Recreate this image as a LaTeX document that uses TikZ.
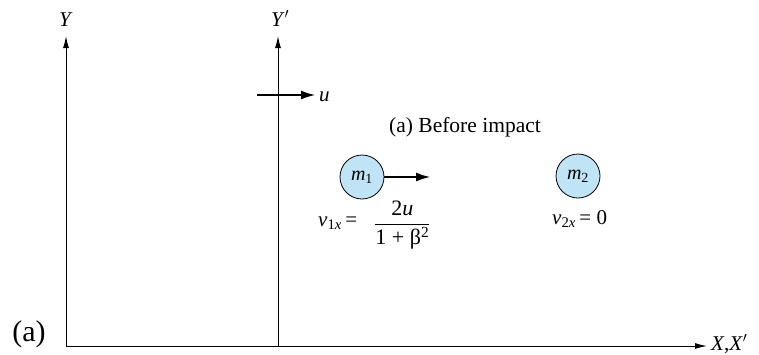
\documentclass[tikz,border=0pt]{standalone}
\usepackage{amsmath}
\usepackage{fontspec}
\setmainfont{Liberation Serif}
\usetikzlibrary{arrows.meta}
\newcommand{\iv}[1]{\textit{#1}}
\begin{document}
\begin{tikzpicture}[x=1pt,y=-1pt,
  axis/.style={line width=1pt,-{Latex[length=12pt,width=6pt]}},
  vel/.style={line width=2.5pt,-{Latex[length=15pt,width=9pt]}},
  mass/.style={circle,draw,line width=0.8pt,fill={rgb,255:red,190;green,228;blue,245},minimum size=44pt,inner sep=0pt,font=\fontsize{20}{20}\selectfont},
  lbl/.style={font=\fontsize{21}{23}\selectfont,inner sep=0pt}]
\useasboundingbox (0,0) rectangle (759,354);
\coordinate (O) at (66,346);
\coordinate (Ytop) at (66,36);
\coordinate (Xend) at (707,346);
\coordinate (Op) at (278,346);
\coordinate (Yptop) at (278,36);
\draw[axis] (O) -- (Ytop);
\draw[axis] (Op) -- (Yptop);
\draw[axis] (O) -- (Xend);
\node[lbl,anchor=base] (ylab) at (66,26) {\iv{Y}};
\node[lbl,anchor=base] (yplab) at (280,26) {\iv{Y}$'$};
\node[lbl,anchor=base west] (xlab) at (711,350) {\iv{X},\iv{X}$'$};
\coordinate (ua) at (257,95);
\coordinate (ub) at (316,95);
\draw[vel] (ua) -- (ub);
\node[lbl,anchor=base west] (ulab) at (319,101) {\iv{u}};
\node[lbl,anchor=base,font=\fontsize{21.5}{23}\selectfont] (title) at (465,132) {(a) Before impact};
\node[mass] (m1) at (362,177) {\iv{m}\textsubscript{1}};
\node[mass] (m2) at (578,176) {\iv{m}\textsubscript{2}};
\coordinate (v1) at (431,177);
\draw[vel] (m1) -- (v1);
\node[lbl,anchor=base west] (v1lab) at (318,226) {\iv{v}\textsubscript{1\iv{x}}\,=};
\node[lbl,anchor=west,font=\fontsize{22}{24}\selectfont] (frac) at (374,225) {$\dfrac{\text{2\iv{u}}}{\text{1 + β\textsuperscript{2}}}$};
\node[lbl,anchor=base west] (v2lab) at (552,224) {\iv{v}\textsubscript{2\iv{x}}\,= 0};
\node[lbl,anchor=base,font=\fontsize{30}{32}\selectfont] (alab) at (29,341) {(a)};
\end{tikzpicture}
\end{document}
